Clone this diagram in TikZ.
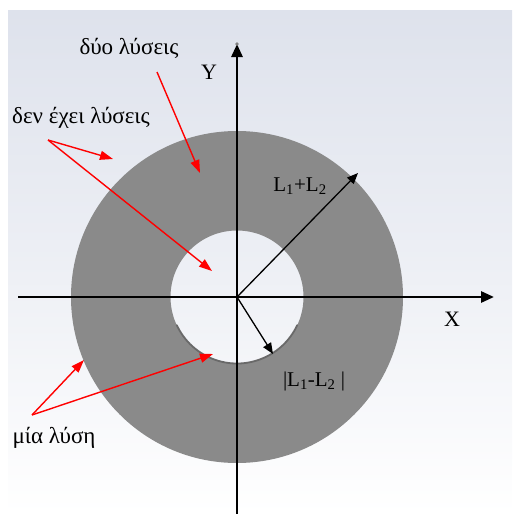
\documentclass[tikz,border=0pt]{standalone}
\usepackage{fontspec}
\setmainfont{Liberation Serif}
\usetikzlibrary{arrows.meta}
\definecolor{ringgray}{RGB}{138,138,138}
\definecolor{bgtop}{RGB}{222,226,236}
\definecolor{shadowgray}{RGB}{105,105,105}
\tikzset{
  axis/.style={line width=2.8pt,-{Triangle[length=13pt,width=11pt]}},
  radius arrow/.style={line width=1.3pt,-{Triangle[length=11pt,width=9pt]}},
  redarrow/.style={red,line width=1.4pt,-{Triangle[length=13pt,width=9pt]}},
  lbl/.style={font=\fontsize{21}{23}\selectfont,inner sep=0pt},
  axlbl/.style={font=\fontsize{22}{24}\selectfont,inner sep=0pt},
  glbl/.style={font=\fontsize{23}{25}\selectfont,inner sep=0pt},
}
\begin{document}
\begin{tikzpicture}[x=1pt,y=-1pt]
\useasboundingbox (0,0) rectangle (512,514);
\fill[white] (0,0) rectangle (512,514);
\shade[top color=bgtop,bottom color=white,middle color=bgtop!55!white] (8,10) rectangle (512,514);
% ring
\fill[ringgray,even odd rule] (237,297) circle[radius=166] (237,297) circle[radius=66.5];
\draw[shadowgray,line width=1.8pt,line cap=round] (237,297) ++(25:66.5) arc[start angle=25,end angle=155,radius=66.5];
% centre
\coordinate (O) at (237,297);
\coordinate (ytop) at (237,44);
\coordinate (ybot) at (237,514);
\coordinate (xleft) at (18,297);
\coordinate (xright) at (494,297);
\draw[line width=2.8pt] (ybot) -- (O);
\draw[axis] (O) -- (ytop);
\fill[gray] (ytop) circle[radius=1.8];
\draw[line width=2.8pt] (xleft) -- (O);
\draw[axis] (O) -- (xright);
% radius arrows
\coordinate (pout) at (358,173);
\coordinate (pin) at (273,354);
\draw[radius arrow] (O) -- (pout);
\draw[radius arrow] (O) -- (pin);
% labels
\node[axlbl] (ylab) at (209,72) {Y};
\node[axlbl] (xlab) at (452,319) {X};
\node[lbl] (sum) at (300,186) {L\textsubscript{1}+L\textsubscript{2}};
\node[lbl] (diff) at (314,381) {|L\textsubscript{1}-L\textsubscript{2} |};
\node[glbl] (two) at (129,48) {δύο λύσεις};
\node[glbl] (none) at (81,118) {δεν έχει λύσεις};
\node[glbl] (one) at (54,438) {μία λύση};
% red arrows
\coordinate (twoS) at (157,72);
\coordinate (twoE) at (200,173);
\coordinate (noneS) at (48,140);
\coordinate (noneE1) at (113,159);
\coordinate (noneE2) at (212,271);
\coordinate (oneS) at (32,415);
\coordinate (oneE1) at (84,360);
\coordinate (oneE2) at (213,354);
\draw[redarrow] (twoS) -- (twoE);
\draw[redarrow] (noneS) -- (noneE1);
\draw[redarrow] (noneS) -- (noneE2);
\draw[redarrow] (oneS) -- (oneE1);
\draw[redarrow] (oneS) -- (oneE2);
\end{tikzpicture}
\end{document}
